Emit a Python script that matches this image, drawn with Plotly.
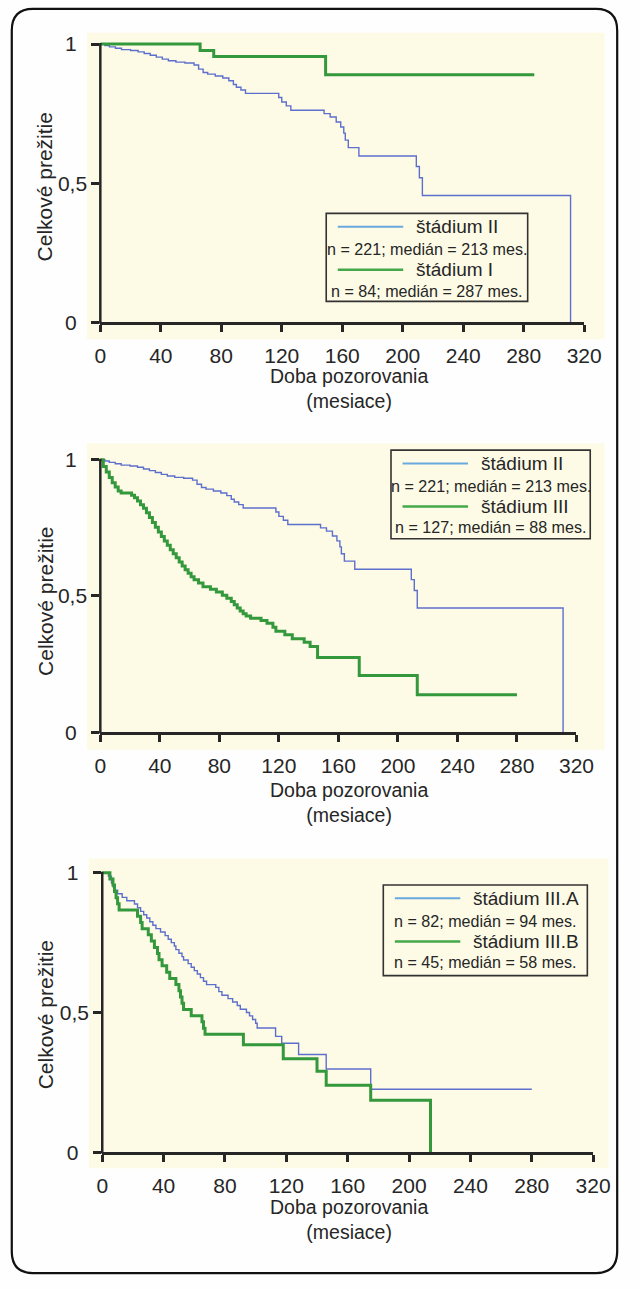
import plotly.graph_objects as go

W, H = 640, 1289

# ---------------- data ----------------
STAGE_II_T = [0, 3, 6, 10, 14, 20, 25, 29, 33, 37, 41, 45, 50, 56, 62, 65, 68, 71, 76, 81,
              85, 88, 90, 93, 96, 118, 120, 123, 126, 148, 152, 156, 159, 161, 162, 164,
              171, 209, 211, 213, 311]
STAGE_II_S = [1.0, 0.995, 0.99, 0.985, 0.98, 0.977, 0.972, 0.966, 0.96, 0.953, 0.946, 0.94,
              0.935, 0.932, 0.925, 0.91, 0.898, 0.892, 0.885, 0.878, 0.868, 0.855, 0.845,
              0.835, 0.823, 0.808, 0.792, 0.778, 0.762, 0.75, 0.738, 0.72, 0.702, 0.68,
              0.655, 0.628, 0.598, 0.56, 0.52, 0.456, 0.0]

STAGE_I_T = [0, 66, 75, 149, 287]
STAGE_I_S = [1.0, 0.977, 0.955, 0.89, 0.89]

STAGE_III_T = [0, 2, 4, 6, 8, 10, 12, 14, 21, 23, 25, 27, 29, 31, 33, 35, 37, 39, 41, 43,
               45, 47, 49, 51, 53, 55, 57, 59, 61, 63, 66, 69, 74, 78, 82, 85, 88, 90, 92,
               94, 96, 98, 101, 108, 112, 116, 118, 124, 129, 137, 141, 146, 174, 213, 280]
STAGE_III_S = [1.0, 0.975, 0.955, 0.935, 0.915, 0.9, 0.885, 0.878, 0.87, 0.86, 0.848, 0.835,
               0.822, 0.805, 0.788, 0.77, 0.752, 0.735, 0.718, 0.702, 0.686, 0.67, 0.655,
               0.64, 0.625, 0.61, 0.596, 0.583, 0.571, 0.56, 0.548, 0.534, 0.525, 0.515,
               0.503, 0.492, 0.48, 0.468, 0.456, 0.445, 0.435, 0.427, 0.418, 0.41, 0.4,
               0.385, 0.371, 0.358, 0.343, 0.33, 0.315, 0.274, 0.208, 0.138, 0.138]

STAGE_IIIA_T = [0, 4, 6, 7, 8, 10, 13, 16, 21, 23, 25, 27, 29, 31, 33, 35, 38, 41, 43, 45,
                47, 48, 50, 52, 53, 56, 58, 60, 62, 64, 66, 68, 74, 76, 78, 82, 85, 88, 90,
                94, 96, 98, 100, 101, 113, 117, 128, 146, 175, 280]
STAGE_IIIA_S = [1.0, 0.988, 0.963, 0.95, 0.938, 0.925, 0.912, 0.9, 0.888, 0.875, 0.862,
                0.85, 0.838, 0.825, 0.812, 0.8, 0.788, 0.775, 0.762, 0.75, 0.738, 0.725,
                0.712, 0.7, 0.688, 0.675, 0.662, 0.65, 0.638, 0.625, 0.612, 0.6, 0.59,
                0.575, 0.562, 0.55, 0.538, 0.525, 0.512, 0.5, 0.488, 0.475, 0.462, 0.445,
                0.415, 0.39, 0.35, 0.298, 0.226, 0.226]

STAGE_IIIB_T = [0, 5, 7, 8, 9, 10, 11, 23, 25, 26, 30, 32, 34, 36, 37, 39, 42, 44, 48, 50,
                51, 52, 53, 58, 65, 66, 67, 92, 118, 140, 146, 175, 214]
STAGE_IIIB_S = [1.0, 0.978, 0.956, 0.933, 0.911, 0.889, 0.867, 0.844, 0.822, 0.8, 0.778,
                0.756, 0.733, 0.711, 0.689, 0.667, 0.644, 0.622, 0.6, 0.578, 0.556, 0.533,
                0.511, 0.489, 0.467, 0.444, 0.422, 0.385, 0.335, 0.29, 0.24, 0.186, 0.0]

X_TICKS = [0, 40, 80, 120, 160, 200, 240, 280, 320]
Y_TICKS = [0, 0.5, 1]
Y_TICK_LABELS = ["0", "0,5", "1"]
X_TITLE_LINES = ["Doba pozorovania", "(mesiace)"]
Y_TITLE = "Celkové prežitie"

PANELS = [
    [("štádium II", "n = 221; medián = 213 mes.", STAGE_II_T, STAGE_II_S, "blue"),
     ("štádium I", "n = 84; medián = 287 mes.", STAGE_I_T, STAGE_I_S, "green")],
    [("štádium II", "n = 221; medián = 213 mes.", STAGE_II_T, STAGE_II_S, "blue"),
     ("štádium III", "n = 127; medián = 88 mes.", STAGE_III_T, STAGE_III_S, "green")],
    [("štádium III.A", "n = 82; medián = 94 mes.", STAGE_IIIA_T, STAGE_IIIA_S, "blue"),
     ("štádium III.B", "n = 45; medián = 58 mes.", STAGE_IIIB_T, STAGE_IIIB_S, "green")],
]

# ---------------- styling / layout geometry (pixels) ----------------
FONT = "Liberation Sans, Arial, Helvetica, sans-serif"
INK = "#262626"
CREAM = "#fdfbe6"
STYLE = {
    "blue": dict(color="#5d6fcc", width=1.4, legend_color="#6aa9de", legend_width=2),
    "green": dict(color="#34983c", width=3, legend_color="#45a84a", legend_width=2.5),
}
YMAX = 1.03
# axis pixel frame per panel: x of t=0, x of t=320, y of S=0, y of S=1
FRAMES = [(98, 600.7, 323, 41.5), (98, 592.7, 737.3, 461.7), (100, 610, 1162, 879.3)]
CREAM_BOXES = [(84, 30, 622, 340), (84, 445, 622, 755), (86, 865, 626, 1178)]
LEGEND_BOXES = [(332.7, 212.7, 542, 301.7), (400, 452, 607, 541.7), (392, 891.7, 604, 983.3)]
XTITLE_CY = [390, 808.5, 1229.5]
YTITLE_Y = [186, 605, 1023]


def px(x):
    return x / W


def py(y):
    return 1 - y / H


# integer labels sit a little further from the axis than "0,5" in the original
y_tick_text = [lbl if "," in lbl else lbl + "\u2002" for lbl in Y_TICK_LABELS]

fig = go.Figure()
shapes = []
annotations = []

# card border (rounded rectangle)
bx0, by0, bx1, by1, r = 6, 6, 635, 1284, 22
pts = [("M", bx0 + r, by0), ("L", bx1 - r, by0), ("Q", bx1, by0, bx1, by0 + r),
       ("L", bx1, by1 - r), ("Q", bx1, by1, bx1 - r, by1), ("L", bx0 + r, by1),
       ("Q", bx0, by1, bx0, by1 - r), ("L", bx0, by0 + r), ("Q", bx0, by0, bx0 + r, by0)]
path = ""
for p in pts:
    cmd, vals = p[0], p[1:]
    coords = []
    for i in range(0, len(vals), 2):
        coords.append(f"{px(vals[i]):.5f},{py(vals[i + 1]):.5f}")
    path += cmd + " ".join(coords) + " "
path += "Z"
shapes.append(dict(type="path", path=path, xref="paper", yref="paper",
                   line=dict(color="#111111", width=2.2), fillcolor="rgba(0,0,0,0)",
                   layer="above"))

for i, series in enumerate(PANELS):
    k = "" if i == 0 else str(i + 1)
    fx0, fx1, fy0, fy1 = FRAMES[i]
    ytop = fy0 - YMAX * (fy0 - fy1)
    xdom = [px(fx0), px(fx1)]
    ydom = [py(fy0), py(ytop)]

    # cream plotting panel
    cx0, cy0, cx1, cy1 = CREAM_BOXES[i]
    shapes.append(dict(type="rect", xref="paper", yref="paper", x0=px(cx0), x1=px(cx1),
                       y0=py(cy1), y1=py(cy0), fillcolor=CREAM, line=dict(width=0),
                       layer="below"))

    for name, stat, t, s, col in series:
        st = STYLE[col]
        fig.add_trace(go.Scatter(x=t, y=s, mode="lines", line_shape="hv",
                                 line=dict(color=st["color"], width=st["width"]),
                                 xaxis="x" + k, yaxis="y" + k, showlegend=False,
                                 hoverinfo="skip"))

    fig.layout["xaxis" + k] = dict(
        domain=xdom, range=[0, 320], anchor="y" + k, tickvals=X_TICKS,
        ticks="outside", ticklen=7, tickwidth=2.5, tickcolor=INK,
        showline=True, linewidth=2.5, linecolor=INK, showgrid=False, zeroline=False,
        tickfont=dict(family=FONT, size=21, color=INK), ticklabelstandoff=6,
        fixedrange=True)
    fig.layout["yaxis" + k] = dict(
        domain=ydom, range=[0, YMAX], anchor="x" + k, tickvals=Y_TICKS,
        ticktext=y_tick_text, ticks="outside", ticklen=8, tickwidth=2.5,
        tickcolor=INK, showline=False, showgrid=False, zeroline=False,
        tickfont=dict(family=FONT, size=21, color=INK), fixedrange=True)

    # y axis line from S=0 to S=1 (derived from the axis frame)
    y_at_one = ydom[0] + (ydom[1] - ydom[0]) / YMAX
    shapes.append(dict(type="line", xref="paper", yref="paper", x0=xdom[0], x1=xdom[0],
                       y0=ydom[0] - 1.25 / H, y1=y_at_one + 1.0 / H,
                       line=dict(color=INK, width=2.5), layer="above"))

    # axis titles
    annotations.append(dict(text="<br>".join(X_TITLE_LINES), x=px(356),
                            y=py(XTITLE_CY[i]), xref="paper", yref="paper",
                            showarrow=False, xanchor="center", yanchor="middle",
                            align="center",
                            font=dict(family=FONT, size=19.5, color=INK)))
    annotations.append(dict(text=Y_TITLE, x=px(41), y=py(YTITLE_Y[i]), xref="paper",
                            yref="paper", showarrow=False, textangle=-90,
                            xanchor="center", yanchor="middle",
                            font=dict(family=FONT, size=21, color=INK)))

    # legend box
    lx0, ly0, lx1, ly1 = LEGEND_BOXES[i]
    shapes.append(dict(type="rect", xref="paper", yref="paper", x0=px(lx0), x1=px(lx1),
                       y0=py(ly1), y1=py(ly0), fillcolor=CREAM,
                       line=dict(color="#333333", width=1.6), layer="above"))
    row_off = [13.5, 36, 57, 78]
    for j, (name, stat, t, s, col) in enumerate(series):
        st = STYLE[col]
        yr = ly0 + row_off[2 * j]
        shapes.append(dict(type="line", xref="paper", yref="paper",
                           x0=px(lx0 + 12), x1=px(lx0 + 80), y0=py(yr), y1=py(yr),
                           line=dict(color=st["legend_color"], width=st["legend_width"]),
                           layer="above"))
        annotations.append(dict(text=name, x=px(lx0 + 91), y=py(yr), xref="paper",
                                yref="paper", showarrow=False, xanchor="left",
                                yanchor="middle",
                                font=dict(family=FONT, size=19, color=INK)))
        ys = ly0 + row_off[2 * j + 1]
        annotations.append(dict(text=stat, x=px((lx0 + lx1) / 2), y=py(ys), xref="paper",
                                yref="paper", showarrow=False, xanchor="center",
                                yanchor="middle",
                                font=dict(family=FONT, size=16.1, color=INK)))

fig.update_layout(width=W, height=H, margin=dict(l=0, r=0, t=0, b=0),
                  paper_bgcolor="#fefefe", plot_bgcolor="rgba(0,0,0,0)",
                  shapes=shapes, annotations=annotations, showlegend=False)

fig.write_html("out.html",
               config={"displayModeBar": False, "responsive": False},
               post_script="document.body.style.margin='0';"
                           "document.body.style.padding='0';"
                           "document.body.style.overflow='hidden';"
                           "document.documentElement.style.overflow='hidden';")
